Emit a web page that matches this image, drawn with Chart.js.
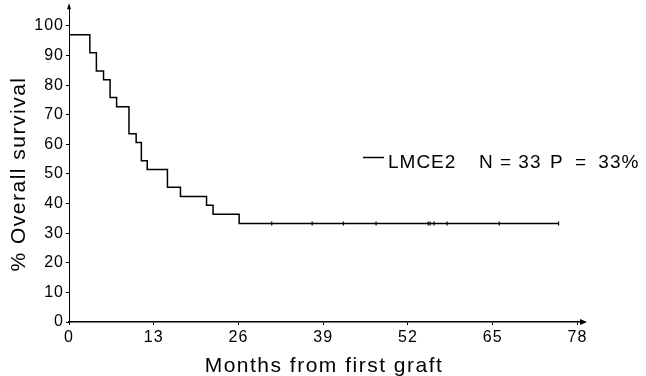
<!DOCTYPE html>
<html>
<head>
<meta charset="utf-8">
<script src="https://cdn.jsdelivr.net/npm/chart.js@4"></script>
<style>
  html, body { margin: 0; padding: 0; background: #fff; }
  #wrap { position: relative; width: 646px; height: 376px; }
</style>
</head>
<body>
<div id="wrap"><canvas id="survivalChart"></canvas></div>
<script>
// Kaplan-Meier steps (months, % surviving)
var stepMonths = [0, 3.2, 4.2, 5.3, 6.3, 7.3, 9.2, 10.3, 11.1, 12.0, 15.1, 17.1, 21.1, 22.1, 26.1, 75.1];
var stepSurvival = [97, 90.9, 84.8, 81.8, 75.8, 72.7, 63.6, 60.6, 54.5, 51.5, 45.5, 42.4, 39.4, 36.4, 33.3, 33.3];
// censored patients
var censorMonths = [31.1, 37.3, 42.1, 47.1, 55.1, 55.4, 56.0, 58.0, 66.0, 75.1];
var censorSurvival = [33.3, 33.3, 33.3, 33.3, 33.3, 33.3, 33.3, 33.3, 33.3, 33.3];
// tick labels
var xTicks = [0, 13, 26, 39, 52, 65, 78];
var yTicks = [0, 10, 20, 30, 40, 50, 60, 70, 80, 90, 100];
var legendText = ['LMCE2', 'N = 33', 'P = 33%'];
var xTitle = 'Months from first graft';
var yTitle = '% Overall survival';

document.addEventListener('DOMContentLoaded', function() {
    var font = "'Liberation Sans', Arial, Helvetica, sans-serif";

    // old typeset look: slightly wider letter spacing everywhere
    var spacing = {
        id: 'spacing',
        beforeLayout: function(chart) { chart.ctx.letterSpacing = '1px'; },
        beforeDraw: function(chart) { chart.ctx.letterSpacing = '1px'; }
    };

    // arrows on axis ends, axis titles and legend text
    var extras = {
        id: 'extras',
        afterDraw: function(chart) {
            var ctx = chart.ctx;
            var a = chart.chartArea;
            ctx.save();
            ctx.fillStyle = '#000';
            // x arrow
            ctx.beginPath();
            ctx.moveTo(a.right + 3, a.bottom);
            ctx.lineTo(a.right - 4, a.bottom - 3);
            ctx.lineTo(a.right - 4, a.bottom + 3);
            ctx.closePath();
            ctx.fill();
            // y arrow
            ctx.beginPath();
            ctx.moveTo(a.left, a.top - 2);
            ctx.lineTo(a.left - 2, a.top + 4);
            ctx.lineTo(a.left + 2, a.top + 4);
            ctx.closePath();
            ctx.fill();

            // axis titles
            ctx.letterSpacing = '1.5px';
            ctx.font = '21px ' + font;
            ctx.textAlign = 'center';
            ctx.textBaseline = 'alphabetic';
            ctx.fillText(xTitle, 324, 372);
            ctx.save();
            ctx.translate(25, 174);
            ctx.rotate(-Math.PI / 2);
            ctx.fillText(yTitle, 0, 0);
            ctx.restore();

            // legend
            ctx.strokeStyle = '#000';
            ctx.lineWidth = 1.5;
            ctx.beginPath();
            ctx.moveTo(363, 157.5);
            ctx.lineTo(384, 157.5);
            ctx.stroke();
            ctx.letterSpacing = '1px';
            ctx.font = '19px ' + font;
            ctx.textAlign = 'left';
            ctx.textBaseline = 'alphabetic';
            ctx.fillText(legendText[0], 388, 168);
            ctx.fillText(legendText[1], 479, 168);
            ctx.wordSpacing = '5px';
            ctx.fillText(legendText[2], 550, 168);
            ctx.restore();
        }
    };

    var ctx = document.getElementById('survivalChart');
    new Chart(ctx, {
        type: 'line',
        data: {
            datasets: [{
                label: legendText[0],
                data: stepMonths.map(function(m, i) { return { x: m, y: stepSurvival[i] }; }),
                stepped: 'before',
                borderColor: '#000',
                borderWidth: 1.5,
                pointRadius: 0,
                fill: false
            }, {
                label: 'censored',
                type: 'scatter',
                data: censorMonths.map(function(m, i) { return { x: m, y: censorSurvival[i] }; }),
                pointStyle: 'line',
                rotation: 90,
                radius: 2,
                borderColor: '#000',
                borderWidth: 1.2
            }]
        },
        options: {
            responsive: true,
            maintainAspectRatio: false,
            animation: false,
            layout: { padding: { left: 0, right: 62, top: 4, bottom: 0 } },
            plugins: {
                legend: { display: false },
                tooltip: { enabled: false }
            },
            scales: {
                x: {
                    type: 'linear',
                    min: 0,
                    max: 79,
                    afterBuildTicks: function(scale) {
                        scale.ticks = xTicks.map(function(v) { return { value: v }; });
                    },
                    afterFit: function(scale) {
                        scale.height = 54;
                        scale.paddingLeft = 0;
                        scale.paddingRight = 0;
                    },
                    grid: { display: true, drawOnChartArea: false, tickLength: 3, color: '#000' },
                    border: { display: true, color: '#000', width: 1.5 },
                    ticks: { color: '#000', padding: 3, maxRotation: 0, font: { family: font, size: 16 } }
                },
                y: {
                    min: 0,
                    max: 107,
                    afterBuildTicks: function(scale) {
                        scale.ticks = yTicks.map(function(v) { return { value: v }; });
                    },
                    afterFit: function(scale) {
                        scale.width = 69;
                        scale.paddingTop = 0;
                        scale.paddingBottom = 0;
                    },
                    grid: { display: true, drawOnChartArea: false, tickLength: 3, color: '#000' },
                    border: { display: true, color: '#000', width: 1, dash: [4, 2] },
                    ticks: { color: '#000', padding: 2, font: { family: font, size: 16 } }
                }
            }
        },
        plugins: [spacing, extras]
    });
});
</script>
</body>
</html>
